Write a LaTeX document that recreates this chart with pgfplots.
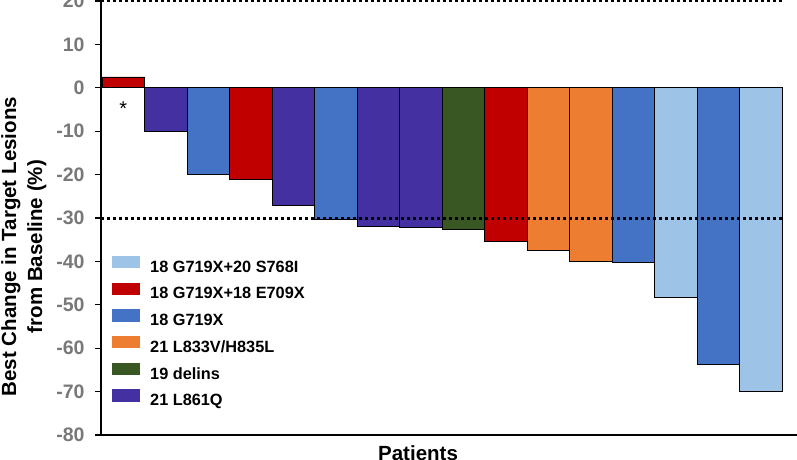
\documentclass[border=0pt]{standalone}
\usepackage{fontspec}
\setmainfont{Liberation Sans}
\usepackage{pgfplots}
\pgfplotsset{compat=1.18}
\definecolor{lblue}{RGB}{157,195,230}
\definecolor{cred}{RGB}{192,0,0}
\definecolor{cblue}{RGB}{68,114,196}
\definecolor{corange}{RGB}{237,125,49}
\definecolor{cgreen}{RGB}{56,87,35}
\definecolor{cpurple}{RGB}{68,48,160}
\definecolor{tickgray}{RGB}{120,120,120}
\begin{document}
\begin{tikzpicture}
\begin{axis}[name=ax, scale only axis, width=696pt, height=434pt,
  xmin=0.476, xmax=16.85, ymin=-80, ymax=20,
  clip=false,
  axis lines*=left, axis line style={line width=1.6pt, black},
  ytick={-80,-70,...,20}, xtick=\empty,
  tick align=outside, major tick length=6pt, tick style={line width=1.3pt, black},
  /pgf/number format/assume math mode=true,
  yticklabel style={font=\fontsize{19.5}{20}\selectfont\bfseries, text=tickgray, xshift=-7pt},
  ylabel={Best Change in Target Lesions\\from Baseline (\%)},
  ylabel style={align=center, font=\fontsize{20.5}{26}\selectfont\bfseries,
    at={(axis description cs:-0.111,0.434)}, anchor=center},
  xlabel={Patients},
  xlabel style={at={(axis description cs:0.4555,0)}, anchor=north, yshift=-10pt,
    inner sep=0pt, font=\fontsize{20.5}{24}\selectfont\bfseries},
  ybar, bar width=1, bar shift=0pt,
  legend cell align=left,
  legend image code/.code={\fill[#1,draw=none] (0pt,-0.6pt) rectangle (28pt,11.8pt);},
  legend style={at={(axis cs:0.735,-38.7)}, anchor=north west, draw=none, fill=none,
    inner sep=0pt, row sep=7.4pt, column sep=10pt,
    font=\fontsize{16.3}{19}\selectfont\bfseries,
    nodes={inner sep=0pt, text height=12pt, text depth=3pt}},
]
\addplot[fill=lblue, draw=black, line width=0.6pt] coordinates {(14,-48.2) (16,-70)};
\addlegendentry{18 G719X+20 S768I}
\addplot[fill=cred, draw=black, line width=0.6pt] coordinates {(1,2.5) (4,-21) (10,-35.3)};
\addlegendentry{18 G719X+18 E709X}
\addplot[fill=cblue, draw=black, line width=0.6pt] coordinates {(3,-20) (6,-30.4) (13,-40.3) (15,-63.6)};
\addlegendentry{18 G719X}
\addplot[fill=corange, draw=black, line width=0.6pt] coordinates {(11,-37.5) (12,-40)};
\addlegendentry{21 L833V/H835L}
\addplot[fill=cgreen, draw=black, line width=0.6pt] coordinates {(9,-32.6)};
\addlegendentry{19 delins}
\addplot[fill=cpurple, draw=black, line width=0.6pt] coordinates {(2,-10) (5,-27) (7,-31.8) (8,-32.1)};
\addlegendentry{21 L861Q}
\draw[line width=3pt, dash pattern=on 3pt off 3pt] (axis cs:0.476,20) -- (axis cs:16.5,20);
\draw[line width=3pt, dash pattern=on 3pt off 3pt] (axis cs:0.476,-30) -- (axis cs:16.5,-30);
\node[font=\fontsize{20}{20}\selectfont, yshift=-4.5pt] at (axis cs:1,-3.7) {*};
\end{axis}
\pgfresetboundingbox
\path[use as bounding box] ([xshift=-101pt,yshift=-24pt]ax.south west) rectangle ([yshift=1pt]ax.north east);
\end{tikzpicture}
\end{document}
